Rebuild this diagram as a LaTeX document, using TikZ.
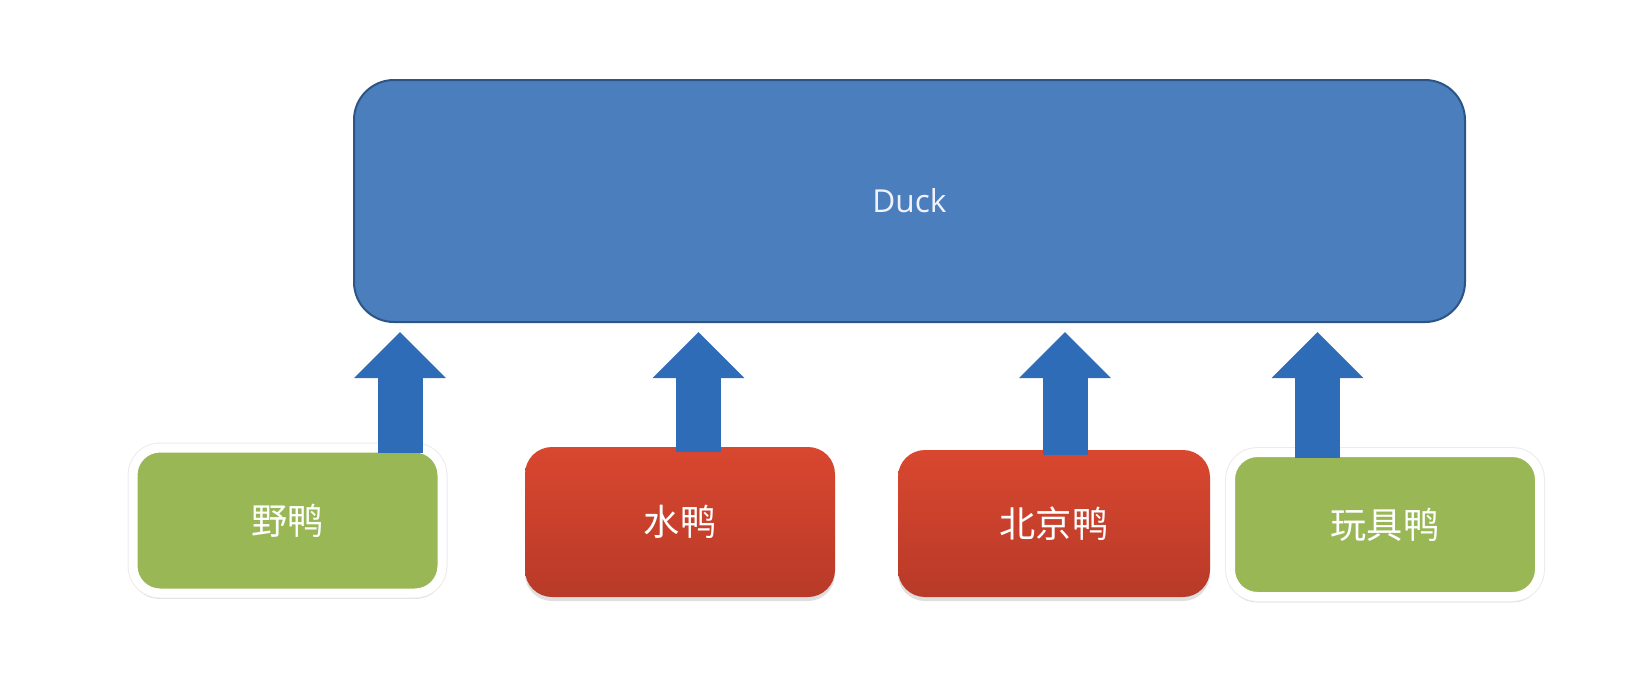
\documentclass[tikz,border=0pt]{standalone}
\usepackage{fontspec}
\setmainfont{Open Sans}
\newfontfamily\cjk{Noto Sans CJK SC}
\usepackage{tikz}
\usetikzlibrary{arrows.meta,shadows}

\definecolor{duckblue}{HTML}{4A7EBD}
\definecolor{duckedge}{HTML}{2C5585}
\definecolor{arrowblue}{HTML}{2F6CB8}
\definecolor{wildgreen}{HTML}{9AB755}
\definecolor{redtop}{HTML}{D9472F}
\definecolor{redbot}{HTML}{B83A28}

\begin{document}
\begin{tikzpicture}[
    base/.style={rounded corners=0.27cm, minimum height=1.47cm, minimum width=3.1cm,
      inner sep=0pt, outer sep=0pt, text=white, font=\cjk\fontsize{10.3pt}{12pt}\selectfont},
    greenbox/.style={base, fill=wildgreen, draw=white, line width=0.09cm,
      drop shadow={shadow xshift=0cm, shadow yshift=-0.05cm, shadow scale=1.01, fill=black!30},
      preaction={draw=black!8, line width=0.11cm}},
    redbox/.style={base, top color=redtop, bottom color=redbot, draw=none,
      drop shadow={shadow xshift=0cm, shadow yshift=-0.04cm, fill=black!25}},
    upward/.style={arrowblue, line width=0.45cm,
      -{Triangle[width=0.89cm,length=0.46cm]}, shorten >=0.1cm, shorten <=-0.05cm}
  ]
  \useasboundingbox (0,0) rectangle (16.41,6.77);

  % Superclass
  \node[fill=duckblue, draw=duckedge, line width=0.02cm, rounded corners=0.4cm,
    minimum width=11.11cm, minimum height=2.42cm, outer sep=0pt, text=blue!5,
    font=\fontsize{9pt}{11pt}\selectfont] (duck) at (9.095,4.76) {Duck};

  % Subclasses
  \node[greenbox] (wild) at (2.875,1.565) [minimum width=3.09cm, minimum height=1.45cm] {野鸭};
  \node[redbox] (water) at (6.80,1.55) [minimum height=1.50cm] {水鸭};
  \node[redbox] (peking) at (10.54,1.535) [minimum width=3.12cm] {北京鸭};
  \node[greenbox] (toy) at (13.85,1.525) [minimum width=3.09cm, minimum height=1.44cm] {玩具鸭};

  % Inheritance arrows
  \coordinate (a1) at (4.00,0);
  \coordinate (a2) at (6.985,0);
  \coordinate (a3) at (10.65,0);
  \coordinate (a4) at (13.175,0);
  \draw[upward] (wild.north -| a1) -- (duck.south -| a1);
  \draw[upward] (water.north -| a2) -- (duck.south -| a2);
  \draw[upward] (peking.north -| a3) -- (duck.south -| a3);
  \draw[upward] (toy.north -| a4) -- (duck.south -| a4);
\end{tikzpicture}
\end{document}
